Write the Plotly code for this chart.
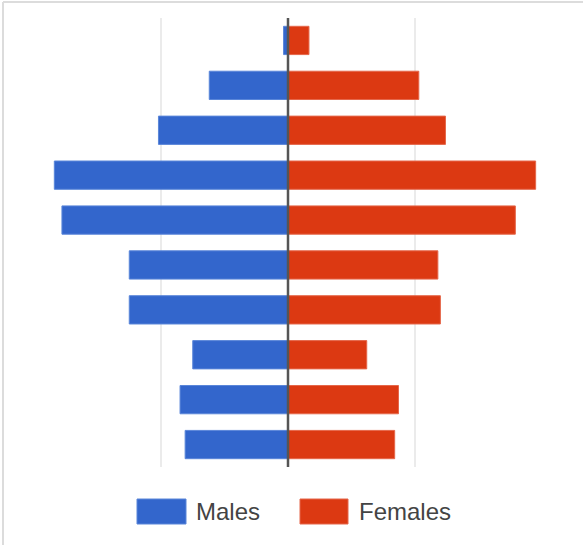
import plotly.graph_objects as go

ages = ["0-9", "10-19", "20-29", "30-39", "40-49", "50-59", "60-69", "70-79", "80-89", "90+"]
males = [8.1, 8.5, 7.5, 12.5, 12.5, 17.8, 18.4, 10.2, 6.2, 0.35]
females = [8.4, 8.7, 6.2, 12.0, 11.8, 17.9, 19.5, 12.4, 10.3, 1.65]
grid_ticks = [-10, 10]

BLUE = "#3366CC"
RED = "#DC3912"

fig = go.Figure()
fig.add_trace(go.Bar(y=ages, x=[-v for v in males], orientation="h", name="Males",
                     marker=dict(color=BLUE, line=dict(color="#5a86d9", width=1)),
                     showlegend=False))
fig.add_trace(go.Bar(y=ages, x=females, orientation="h", name="Females",
                     marker=dict(color=RED, line=dict(color="#e5674a", width=1)),
                     showlegend=False))

L, R, T, B = 34, 41, 18, 78
W, H = 583, 545
pw, ph = W - L - R, H - T - B

def px(x):
    return (x - L) / pw

def py(y):
    return (H - B - y) / ph

shapes = [
    # outer light border (top and left)
    dict(type="line", xref="paper", yref="paper", x0=px(3), x1=px(583), y0=py(2), y1=py(2),
         line=dict(color="#dcdcdc", width=2)),
    dict(type="line", xref="paper", yref="paper", x0=px(3), x1=px(3), y0=py(2), y1=py(545),
         line=dict(color="#dcdcdc", width=2)),
    # legend swatches
    dict(type="rect", xref="paper", yref="paper", x0=px(137), x1=px(186), y0=py(499), y1=py(524),
         fillcolor=BLUE, line=dict(color="#5a86d9", width=1)),
    dict(type="rect", xref="paper", yref="paper", x0=px(300), x1=px(348), y0=py(499), y1=py(524),
         fillcolor=RED, line=dict(color="#e5674a", width=1)),
    # zero line
    dict(type="line", xref="x", yref="paper", x0=0, x1=0, y0=0, y1=1,
         line=dict(color="#555555", width=2.5)),
]

annotations = [
    dict(text="Males", xref="paper", yref="paper", x=px(194), y=py(511.5), xanchor="left",
         yanchor="middle", showarrow=False, font=dict(family="Liberation Sans, Arial", size=24, color="#444444")),
    dict(text="Females", xref="paper", yref="paper", x=px(357), y=py(511.5), xanchor="left",
         yanchor="middle", showarrow=False, font=dict(family="Liberation Sans, Arial", size=24, color="#444444")),
]

fig.update_layout(
    width=W, height=H,
    margin=dict(l=L, r=R, t=T, b=B),
    barmode="relative",
    bargap=0.37,
    plot_bgcolor="white", paper_bgcolor="white",
    xaxis=dict(range=[-20, 20], tickvals=grid_ticks, showticklabels=False, showgrid=True,
               gridcolor="#ebebeb", gridwidth=2, zeroline=False, showline=False, fixedrange=True),
    yaxis=dict(showticklabels=False, showgrid=False, zeroline=False, showline=False,
               categoryorder="array", categoryarray=ages, range=[-0.5, 9.5]),
    shapes=shapes,
    annotations=annotations,
    showlegend=False,
)

fig.write_html("out.html")
